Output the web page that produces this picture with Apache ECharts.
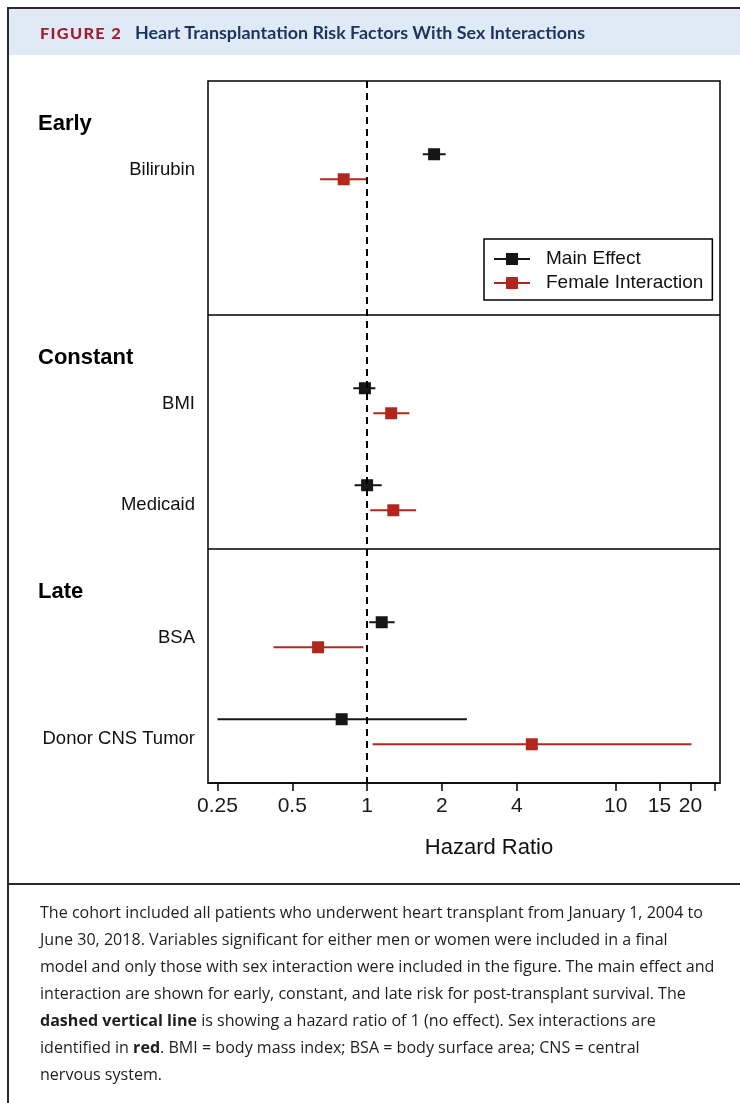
<!DOCTYPE html>
<html>
<head>
<meta charset="utf-8">
<script src="https://cdn.jsdelivr.net/npm/echarts@6/dist/echarts.min.js"></script>
<style>
  html, body { margin: 0; padding: 0; background: #fff; }
  body { width: 740px; height: 1103px; position: relative; overflow: hidden; }
  #chart { position: absolute; left: 0; top: 0; width: 740px; height: 1103px; z-index: 1; }
  .frameTop { position: absolute; left: 7px; top: 7px; width: 733px; height: 2px; background: #2a2a2a; z-index: 3; }
  .frameLeft { position: absolute; left: 7px; top: 7px; width: 2px; height: 1096px; background: #2a2a2a; z-index: 3; }
  .band { position: absolute; left: 9px; top: 9px; width: 731px; height: 46px; background: #dfeaf6; z-index: 0; }
  .sep { position: absolute; left: 7px; top: 883px; width: 733px; height: 2px; background: #2a2a2a; z-index: 3; }
  .fit { position: absolute; white-space: nowrap; transform-origin: 0 50%; z-index: 2; }
  #figLabel { left: 40px; top: 23px; font-family: Lato, "Open Sans", sans-serif; font-weight: 900; font-size: 15px; letter-spacing: 1.2px; color: #a51c30; line-height: 20px; }
  #figTitle { left: 135px; top: 23px; font-family: Lato, "Open Sans", sans-serif; font-weight: 700; font-size: 16.5px; color: #1b355f; line-height: 20px; }
  #caption { position: absolute; left: 40px; top: 899px; z-index: 2; font-family: "Open Sans", Lato, sans-serif; font-size: 16px; color: #1e1e1e; line-height: 27px; transform-origin: 0 0; }
  #caption div { white-space: nowrap; }
</style>
</head>
<body>
<div class="band"></div>
<div class="frameTop"></div>
<div class="frameLeft"></div>
<div class="sep"></div>
<div id="figLabel" class="fit" data-w="82">FIGURE 2</div>
<div id="figTitle" class="fit" data-w="450">Heart Transplantation Risk Factors With Sex Interactions</div>
<div id="caption">
  <div id="capFirst">The cohort included all patients who underwent heart transplant from January 1, 2004 to</div>
  <div>June 30, 2018. Variables significant for either men or women were included in a final</div>
  <div>model and only those with sex interaction were included in the figure. The main effect and</div>
  <div>interaction are shown for early, constant, and late risk for post-transplant survival. The</div>
  <div><b>dashed vertical line</b> is showing a hazard ratio of 1 (no effect). Sex interactions are</div>
  <div>identified in <b>red</b>. BMI = body mass index; BSA = body surface area; CNS = central</div>
  <div>nervous system.</div>
</div>
<div id="chart"></div>
<script>
// ---------- data ----------
const groups = ['Early', 'Constant', 'Late'];
const variables = ['Bilirubin', 'BMI', 'Medicaid', 'BSA', 'Donor CNS Tumor'];
const variableGroup = [0, 1, 1, 2, 2];
const mainHR = [1.86, 0.98, 1.00, 1.145, 0.79];
const mainLo = [1.675, 0.88, 0.89, 1.02, 0.25];
const mainHi = [2.07, 1.08, 1.145, 1.29, 2.52];
const femHR = [0.805, 1.25, 1.275, 0.635, 4.60];
const femLo = [0.647, 1.06, 1.03, 0.42, 1.053];
const femHi = [0.99, 1.48, 1.575, 0.966, 20.2];
const xTickValues = [0.25, 0.5, 1, 2, 4, 10, 15, 20, 25];
const xLabelValues = [0.25, 0.5, 1, 2, 4, 10, 15, 20];
const seriesNames = ['Main Effect', 'Female Interaction'];

// ---------- layout (section units on the y axis) ----------
const GROUP_LABEL = 0.183, FIRST_ROW = 0.313, PAIR_GAP = 0.107, VAR_GAP = 0.4145;
const LABEL_SHIFT = [0.012, 0.032];
const rowIndexInGroup = variables.map((v, i) => variableGroup.slice(0, i).filter(g => g === variableGroup[i]).length);
const mainY = variables.map((v, i) => variableGroup[i] + FIRST_ROW + rowIndexInGroup[i] * VAR_GAP);
const femY = mainY.map(y => y + PAIR_GAP);
const labelY = mainY.map((y, i) => y + PAIR_GAP / 2 + LABEL_SHIFT[rowIndexInGroup[i]]);
const groupY = groups.map((g, i) => i + GROUP_LABEL);

function nearestIndex(arr, v) {
  let best = 0, d = Infinity;
  arr.forEach((a, i) => { if (Math.abs(a - v) < d) { d = Math.abs(a - v); best = i; } });
  return best;
}

const FONT = '"Liberation Sans", Arial, Helvetica, sans-serif';
const BLACK = '#161616', RED = '#b3261e';
const ICON = 'path://M0,5H12V0H24V5H36V7H24V12H12V7H0Z';

function makeRender(color) {
  return function (params, api) {
    const y = api.value(3);
    const pE = api.coord([api.value(0), y]);
    const pL = api.coord([api.value(1), y]);
    const pH = api.coord([api.value(2), y]);
    return {
      type: 'group',
      children: [
        { type: 'line', shape: { x1: pL[0], y1: pL[1], x2: pH[0], y2: pH[1] }, style: { stroke: color, lineWidth: 2 } },
        { type: 'rect', shape: { x: pE[0] - 6, y: pE[1] - 6, width: 12, height: 12 }, style: { fill: color } }
      ]
    };
  };
}

const chart = echarts.init(document.getElementById('chart'), null, { renderer: 'canvas' });
chart.setOption({
  animation: false,
  backgroundColor: 'transparent',
  grid: { left: 208, right: 20, top: 81, bottom: 320, show: true, borderColor: '#000', borderWidth: 1.5, backgroundColor: 'transparent' },
  legend: {
    left: 484, top: 239, orient: 'vertical',
    itemWidth: 36, itemHeight: 12, itemGap: 4,
    padding: [10, 9, 7, 10],
    borderColor: '#000', borderWidth: 1.5, borderRadius: 0,
    backgroundColor: '#fff',
    textStyle: { fontFamily: FONT, fontSize: 19, color: '#111', lineHeight: 20, padding: [0, 0, 0, 11] },
    data: seriesNames.map(n => ({ name: n, icon: ICON }))
  },
  xAxis: {
    type: 'log', logBase: 10, min: 0.229, max: 26.3, position: 'bottom',
    name: 'Hazard Ratio', nameLocation: 'middle', nameGap: 54,
    nameTextStyle: { fontFamily: FONT, fontSize: 22, color: '#111', padding: [0, 0, 0, 50] },
    axisLine: { show: true, onZero: false, lineStyle: { color: '#000', width: 1.5 } },
    axisTick: { show: true, length: 8, customValues: xTickValues, lineStyle: { color: '#000', width: 1.5 } },
    axisLabel: { show: true, customValues: xLabelValues, margin: 13, fontFamily: FONT, fontSize: 21, color: '#1a1a1a', formatter: v => String(v) },
    splitLine: { show: false }, minorTick: { show: false }, minorSplitLine: { show: false }
  },
  yAxis: [
    {
      type: 'value', min: 0, max: 3, inverse: true, position: 'left',
      axisLine: { show: false }, axisTick: { show: false }, splitLine: { show: false },
      axisLabel: { show: true, customValues: labelY, margin: 13, fontFamily: FONT, fontSize: 18.5, color: '#111',
        formatter: v => variables[nearestIndex(labelY, v)] }
    },
    {
      type: 'value', min: 0, max: 3, inverse: true, position: 'left', offset: 0,
      axisLine: { show: false }, axisTick: { show: false }, splitLine: { show: false },
      axisLabel: { show: true, customValues: groupY, margin: 170, align: 'left', fontFamily: FONT, fontSize: 22, fontWeight: 'bold', color: '#000',
        formatter: v => groups[nearestIndex(groupY, v)] }
    }
  ],
  series: [
    {
      name: seriesNames[0], type: 'custom', renderItem: makeRender(BLACK),
      itemStyle: { color: BLACK },
      encode: { x: [0, 1, 2], y: 3 },
      data: variables.map((v, i) => [mainHR[i], mainLo[i], mainHi[i], mainY[i]]),
      markLine: {
        silent: true, symbol: 'none', label: { show: false },
        data: [
          { xAxis: 1, lineStyle: { type: [7, 5], color: '#000', width: 2 } },
          { yAxis: 1, lineStyle: { type: 'solid', color: '#000', width: 1.5 } },
          { yAxis: 2, lineStyle: { type: 'solid', color: '#000', width: 1.5 } }
        ]
      },
      z: 3
    },
    {
      name: seriesNames[1], type: 'custom', renderItem: makeRender(RED),
      itemStyle: { color: RED },
      encode: { x: [0, 1, 2], y: 3 },
      data: variables.map((v, i) => [femHR[i], femLo[i], femHi[i], femY[i]]),
      z: 3
    }
  ]
});

// horizontally condense HTML text to match the reference widths
function fitAll() {
  document.querySelectorAll('.fit').forEach(el => {
    const w = el.getBoundingClientRect().width;
    const target = parseFloat(el.dataset.w);
    el.style.transform = 'scaleX(' + (target / w) + ')';
  });
  const first = document.getElementById('capFirst');
  const range = document.createRange();
  range.selectNodeContents(first);
  const w = range.getBoundingClientRect().width;
  document.getElementById('caption').style.transform = 'scaleX(' + (663 / w) + ')';
}
fitAll();
</script>
</body>
</html>
